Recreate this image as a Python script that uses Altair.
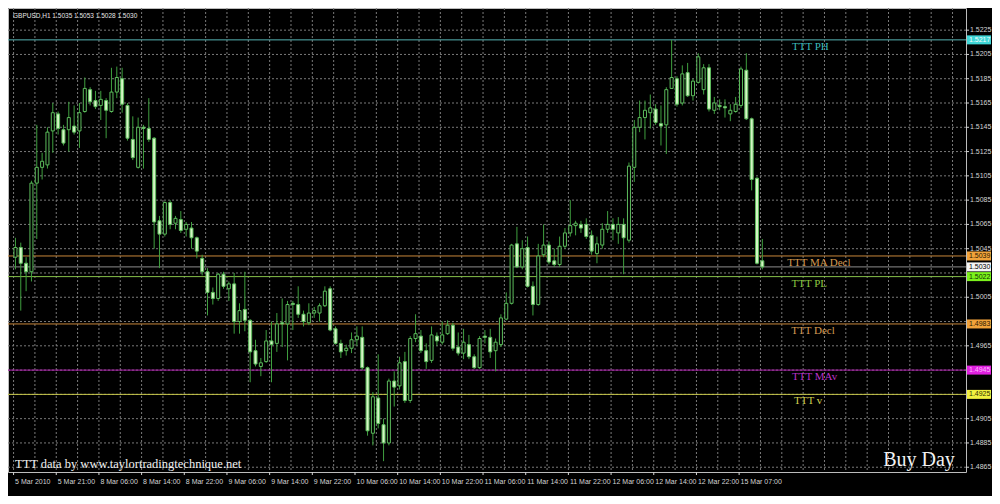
import altair as alt
import pandas as pd

# ---------------- data ----------------
opens = [1.5038, 1.5046, 1.5033, 1.5026, 1.5099, 1.5112, 1.5114, 1.5142, 1.5156, 1.5143,
         1.5143, 1.5146, 1.5142, 1.5158, 1.5176, 1.5167, 1.5163, 1.5167, 1.5158, 1.5174,
         1.5185, 1.5163, 1.5135, 1.5112, 1.5145, 1.5144, 1.5136, 1.5068, 1.5057, 1.5083,
         1.5066, 1.5069, 1.5061, 1.5062, 1.5054, 1.5037, 1.5026, 1.5009, 1.5004, 1.5024,
         1.5012, 1.5016, 1.4985, 1.4995, 1.4986, 1.4961, 1.4948, 1.4952, 1.4969, 1.4967,
         1.4984, 1.4983, 1.5000, 1.4999, 1.4991, 1.4984, 1.4992, 1.4992, 1.4998, 1.5012,
         1.4979, 1.4967, 1.4961, 1.4963, 1.4970, 1.4972, 1.4947, 1.4893, 1.4922, 1.4900,
         1.4885, 1.4936, 1.4932, 1.4952, 1.4920, 1.4971, 1.4973, 1.4961, 1.4953, 1.4973,
         1.4968, 1.4975, 1.4982, 1.4964, 1.4959, 1.4966, 1.4956, 1.4947, 1.4973, 1.4972,
         1.4961, 1.4966, 1.4987, 1.5000, 1.5049, 1.5030, 1.5046, 1.5014, 1.4999, 1.5040,
         1.5048, 1.5035, 1.5032, 1.5047, 1.5058, 1.5064, 1.5065, 1.5065, 1.5056, 1.5041,
         1.5048, 1.5061, 1.5065, 1.5058, 1.5065, 1.5052, 1.5112, 1.5145, 1.5153, 1.5157,
         1.5160, 1.5148, 1.5147, 1.5177, 1.5185, 1.5165, 1.5190, 1.5171, 1.5182, 1.5176,
         1.5194, 1.5159, 1.5163, 1.5162, 1.5156, 1.5158, 1.5163, 1.5192, 1.5152, 1.5103,
         1.5035]
highs = [1.5054, 1.5050, 1.5038, 1.5101, 1.5147, 1.5124, 1.5145, 1.5165, 1.5158, 1.5147,
         1.5166, 1.5163, 1.5165, 1.5186, 1.5178, 1.5175, 1.5175, 1.5169, 1.5194, 1.5195,
         1.5194, 1.5165, 1.5154, 1.5153, 1.5147, 1.5169, 1.5137, 1.5072, 1.5084, 1.5085,
         1.5072, 1.5076, 1.5067, 1.5067, 1.5055, 1.5040, 1.5029, 1.5013, 1.5025, 1.5026,
         1.5018, 1.5025, 1.5000, 1.5026, 1.4987, 1.4970, 1.4955, 1.4978, 1.4985, 1.4992,
         1.5004, 1.5002, 1.5002, 1.5014, 1.4994, 1.5000, 1.4997, 1.5000, 1.5014, 1.5014,
         1.4981, 1.4970, 1.4966, 1.4976, 1.4981, 1.4981, 1.4948, 1.4927, 1.4958, 1.4905,
         1.4938, 1.4944, 1.4956, 1.4960, 1.4973, 1.4991, 1.4978, 1.4967, 1.4981, 1.4976,
         1.4985, 1.4986, 1.4984, 1.4976, 1.4979, 1.4974, 1.4958, 1.4973, 1.4978, 1.4979,
         1.4971, 1.4991, 1.5009, 1.5049, 1.5063, 1.5052, 1.5055, 1.5018, 1.5049, 1.5065,
         1.5051, 1.5045, 1.5055, 1.5062, 1.5085, 1.5068, 1.5068, 1.5070, 1.5060, 1.5055,
         1.5066, 1.5076, 1.5070, 1.5071, 1.5070, 1.5116, 1.5151, 1.5167, 1.5167, 1.5172,
         1.5164, 1.5163, 1.5178, 1.5217, 1.5187, 1.5196, 1.5198, 1.5185, 1.5206, 1.5197,
         1.5197, 1.5170, 1.5168, 1.5168, 1.5164, 1.5170, 1.5195, 1.5206, 1.5153, 1.5104,
         1.5053]
lows = [1.5028, 1.4994, 1.5010, 1.5018, 1.5053, 1.5102, 1.5111, 1.5124, 1.5139, 1.5130,
        1.5125, 1.5139, 1.5128, 1.5157, 1.5163, 1.5160, 1.5151, 1.5136, 1.5157, 1.5169,
        1.5157, 1.5134, 1.5118, 1.5111, 1.5111, 1.5133, 1.5045, 1.5029, 1.5055, 1.5061,
        1.5061, 1.5058, 1.5055, 1.5045, 1.5037, 1.5023, 1.4990, 1.4999, 1.5002, 1.5012,
        1.5002, 1.4975, 1.4975, 1.4977, 1.4935, 1.4948, 1.4940, 1.4951, 1.4935, 1.4960,
        1.4964, 1.4953, 1.4978, 1.4988, 1.4981, 1.4982, 1.4988, 1.4985, 1.4997, 1.4977,
        1.4966, 1.4955, 1.4957, 1.4959, 1.4965, 1.4945, 1.4891, 1.4883, 1.4897, 1.4870,
        1.4883, 1.4915, 1.4929, 1.4918, 1.4918, 1.4968, 1.4959, 1.4946, 1.4951, 1.4965,
        1.4966, 1.4974, 1.4961, 1.4957, 1.4954, 1.4954, 1.4946, 1.4946, 1.4967, 1.4955,
        1.4944, 1.4964, 1.4986, 1.4999, 1.5029, 1.5028, 1.5013, 1.4990, 1.4998, 1.5038,
        1.5032, 1.5030, 1.5030, 1.5045, 1.5055, 1.5056, 1.5058, 1.5053, 1.5040, 1.5033,
        1.5045, 1.5058, 1.5052, 1.5049, 1.5024, 1.5050, 1.5100, 1.5141, 1.5135, 1.5144,
        1.5147, 1.5130, 1.5123, 1.5177, 1.5162, 1.5163, 1.5170, 1.5167, 1.5181, 1.5172,
        1.5158, 1.5156, 1.5159, 1.5153, 1.5150, 1.5157, 1.5161, 1.5151, 1.5093, 1.5032,
        1.5028]
closes = [1.5046, 1.5033, 1.5026, 1.5099, 1.5112, 1.5117, 1.5141, 1.5157, 1.5144, 1.5132,
          1.5153, 1.5141, 1.5157, 1.5177, 1.5166, 1.5162, 1.5168, 1.5159, 1.5174, 1.5186,
          1.5164, 1.5136, 1.5120, 1.5145, 1.5144, 1.5135, 1.5067, 1.5057, 1.5083, 1.5065,
          1.5070, 1.5060, 1.5065, 1.5054, 1.5043, 1.5026, 1.5009, 1.5004, 1.5024, 1.5014,
          1.5016, 1.4985, 1.4994, 1.4986, 1.4960, 1.4950, 1.4951, 1.4969, 1.4966, 1.4983,
          1.4983, 1.4999, 1.4999, 1.4991, 1.4985, 1.4992, 1.4994, 1.4998, 1.5010, 1.4978,
          1.4967, 1.4960, 1.4963, 1.4970, 1.4973, 1.4947, 1.4895, 1.4923, 1.4901, 1.4885,
          1.4936, 1.4931, 1.4951, 1.4920, 1.4971, 1.4975, 1.4961, 1.4952, 1.4974, 1.4969,
          1.4974, 1.4982, 1.4963, 1.4959, 1.4968, 1.4956, 1.4947, 1.4971, 1.4972, 1.4960,
          1.4968, 1.4988, 1.5000, 1.5048, 1.5030, 1.5045, 1.5014, 1.4999, 1.5039, 1.5048,
          1.5034, 1.5032, 1.5047, 1.5058, 1.5064, 1.5066, 1.5062, 1.5055, 1.5043, 1.5049,
          1.5061, 1.5065, 1.5061, 1.5065, 1.5054, 1.5113, 1.5145, 1.5153, 1.5159, 1.5161,
          1.5149, 1.5146, 1.5176, 1.5186, 1.5164, 1.5189, 1.5171, 1.5183, 1.5203, 1.5194,
          1.5160, 1.5165, 1.5162, 1.5161, 1.5159, 1.5164, 1.5193, 1.5152, 1.5102, 1.5033,
          1.5030]

time_label_bars = [0, 8, 16, 24, 32, 40, 48, 56, 64, 72, 80, 88, 96, 104, 112, 120, 128, 136]
time_labels = ["5 Mar 2010", "5 Mar 21:00", "8 Mar 06:00", "8 Mar 14:00", "8 Mar 22:00",
               "9 Mar 06:00", "9 Mar 14:00", "9 Mar 22:00", "10 Mar 06:00", "10 Mar 14:00",
               "10 Mar 22:00", "11 Mar 06:00", "11 Mar 14:00", "11 Mar 22:00", "12 Mar 06:00",
               "12 Mar 14:00", "12 Mar 22:00", "15 Mar 07:00"]

price_tick_labels = [1.5225, 1.5205, 1.5185, 1.5165, 1.5145, 1.5125, 1.5105, 1.5085,
                     1.5065, 1.5045, 1.5005, 1.4965, 1.4905, 1.4885, 1.4865]
grid_prices = [1.4865, 1.4885, 1.4905, 1.4925, 1.4945, 1.4965, 1.4985, 1.5005, 1.5025,
               1.5045, 1.5065, 1.5085, 1.5105, 1.5125, 1.5145, 1.5165, 1.5185, 1.5205, 1.5225]

level_prices = [1.5217, 1.5039, 1.5030, 1.5022, 1.4983, 1.4945, 1.4925]
level_line_colors = ["#57b3b3", "#c8863a", "#8c8c8c", "#86c04a", "#c8863a", "#b020b0", "#c8c84a"]
level_box_colors = ["#3fd6d6", "#f0a23a", "#f4f4f4", "#7cf21c", "#f0a23a", "#e020e0", "#f0f040"]
level_box_text = ["#f4ffff", "#2a1800", "#000000", "#103000", "#2a1800", "#ffb8ff", "#303000"]

label_names = ["TTT PH", "TTT MA Decl", "TTT PL", "TTT Decl", "TTT MAv", "TTT v"]
label_prices = [1.5217, 1.5039, 1.5022, 1.4983, 1.4945, 1.4925]
label_colors = ["#3cbcbc", "#d49a52", "#8cc840", "#d49a52", "#b832c8", "#d0d050"]
label_bar_pos = [149.0, 150.6, 148.8, 149.5, 149.8, 148.6]

title_text = "GBPUSD,H1  1.5035 1.5053 1.5028 1.5030"
footer_text = "TTT data by www.taylortradingtechnique.net"
signal_text = "Buy Day"

# ---------------- layout / style ----------------
W, H = 958, 464
xs = alt.Scale(domain=[-0.457, 177.24], nice=False, zero=False)
ys = alt.Scale(domain=[1.486107, 1.524325], nice=False, zero=False)
WICK = "#3f9f3f"
EDGE = "#5cbc5c"
BEAR = "#d4f5c4"
GRID = "#7a7a7a"
AXTXT = "#d4d4d4"

candles = pd.DataFrame({"i": list(range(len(opens))), "o": opens, "h": highs,
                        "l": lows, "c": closes})

vgrid = pd.DataFrame({"g": [4 * k - 0.35 for k in range(45)]})
hgrid = pd.DataFrame({"p": grid_prices})
levels = pd.DataFrame({"p": level_prices, "line": level_line_colors,
                       "box": level_box_colors, "tc": level_box_text})
labels = pd.DataFrame({"name": label_names, "p": label_prices, "col": label_colors,
                       "pos": label_bar_pos})
ticks = pd.DataFrame({"p": price_tick_labels})
tlab = pd.DataFrame({"b": [b - 0.35 for b in time_label_bars], "t": time_labels})

X = lambda f: alt.X(f, scale=xs, axis=None)
Y = lambda f: alt.Y(f, scale=ys, axis=None)

vgrid_l = alt.Chart(vgrid).mark_rule(color=GRID, strokeDash=[2, 2], strokeWidth=1).encode(
    x=X("g:Q"), y=alt.value(0), y2=alt.value(H))
hgrid_l = alt.Chart(hgrid).mark_rule(color=GRID, strokeDash=[2, 2], strokeWidth=1).encode(
    y=Y("p:Q"), x=alt.value(0), x2=alt.value(W))
level_l = alt.Chart(levels).mark_rule(strokeWidth=1).encode(
    y=Y("p:Q"), x=alt.value(0), x2=alt.value(W), color=alt.Color("line:N", scale=None))

wick_l = alt.Chart(candles).mark_rule(color=WICK, strokeWidth=1).encode(
    x=X("i:Q"), y=Y("l:Q"), y2="h:Q")
body_l = alt.Chart(candles).mark_bar(size=3, stroke=EDGE, strokeWidth=1).encode(
    x=X("i:Q"), y=Y("o:Q"), y2="c:Q",
    fill=alt.when(alt.datum.c >= alt.datum.o).then(alt.value("#000000")).otherwise(alt.value(BEAR)))

label_l = alt.Chart(labels).mark_text(font="Liberation Serif", fontSize=11, align="center",
                                       baseline="middle", dy=7).encode(
    x=X("pos:Q"), y=Y("p:Q"), text="name:N", color=alt.Color("col:N", scale=None))

tick_r = alt.Chart(ticks).mark_rule(color=AXTXT, strokeWidth=1).encode(
    y=Y("p:Q"), x=alt.value(W), x2=alt.value(W + 3))
tick_t = alt.Chart(ticks).mark_text(font="Liberation Sans", fontSize=7, align="left",
                                    baseline="middle", color=AXTXT).encode(
    y=Y("p:Q"), x=alt.value(W + 4), text=alt.Text("p:Q", format=".4f"))

box_r = alt.Chart(levels).mark_rect(yOffset=-4.5, y2Offset=4.5).encode(
    y=Y("p:Q"), y2="p:Q", x=alt.value(W + 1), x2=alt.value(W + 25),
    color=alt.Color("box:N", scale=None))
box_t = alt.Chart(levels).mark_text(font="Liberation Sans", fontSize=7, align="left",
                                    baseline="middle").encode(
    y=Y("p:Q"), x=alt.value(W + 3), text=alt.Text("p:Q", format=".4f"),
    color=alt.Color("tc:N", scale=None))

time_r = alt.Chart(tlab).mark_rule(color=AXTXT, strokeWidth=1).encode(
    x=X("b:Q"), y=alt.value(H), y2=alt.value(H + 3))
time_t = alt.Chart(tlab).mark_text(font="Liberation Sans", fontSize=7, align="left",
                                   baseline="middle", dx=1.5, color=AXTXT).encode(
    x=X("b:Q"), y=alt.value(H + 10), text="t:N")

annot = pd.DataFrame({"t": [title_text]})
title_l = alt.Chart(annot).mark_text(font="Liberation Sans", fontSize=6.5, align="left",
                                     baseline="middle", color="#e6e6e6").encode(
    x=alt.value(5), y=alt.value(8), text="t:N")
foot = pd.DataFrame({"t": [footer_text]})
foot_l = alt.Chart(foot).mark_text(font="Liberation Serif", fontSize=12.5, align="left",
                                   baseline="middle", color="#f2f2f2").encode(
    x=alt.value(7), y=alt.value(456), text="t:N")
sig = pd.DataFrame({"t": [signal_text]})
sig_l = alt.Chart(sig).mark_text(font="Liberation Serif", fontSize=20, align="center",
                                 baseline="alphabetic", color="#f2f2f2").encode(
    x=alt.value(911), y=alt.value(458), text="t:N")

chart = alt.layer(
    vgrid_l, hgrid_l, level_l, wick_l, body_l, label_l,
    tick_r, tick_t, box_r, box_t, time_r, time_t, title_l, foot_l, sig_l
).properties(
    width=W, height=H,
    padding={"left": 0, "top": 0, "right": 26, "bottom": 24},
    autosize=alt.AutoSizeParams(type="none"),
    background="#000000",
).configure_view(stroke="#bcbcbc", strokeWidth=1)

chart.save("out.html", embed_options={"renderer": "svg", "actions": False})
